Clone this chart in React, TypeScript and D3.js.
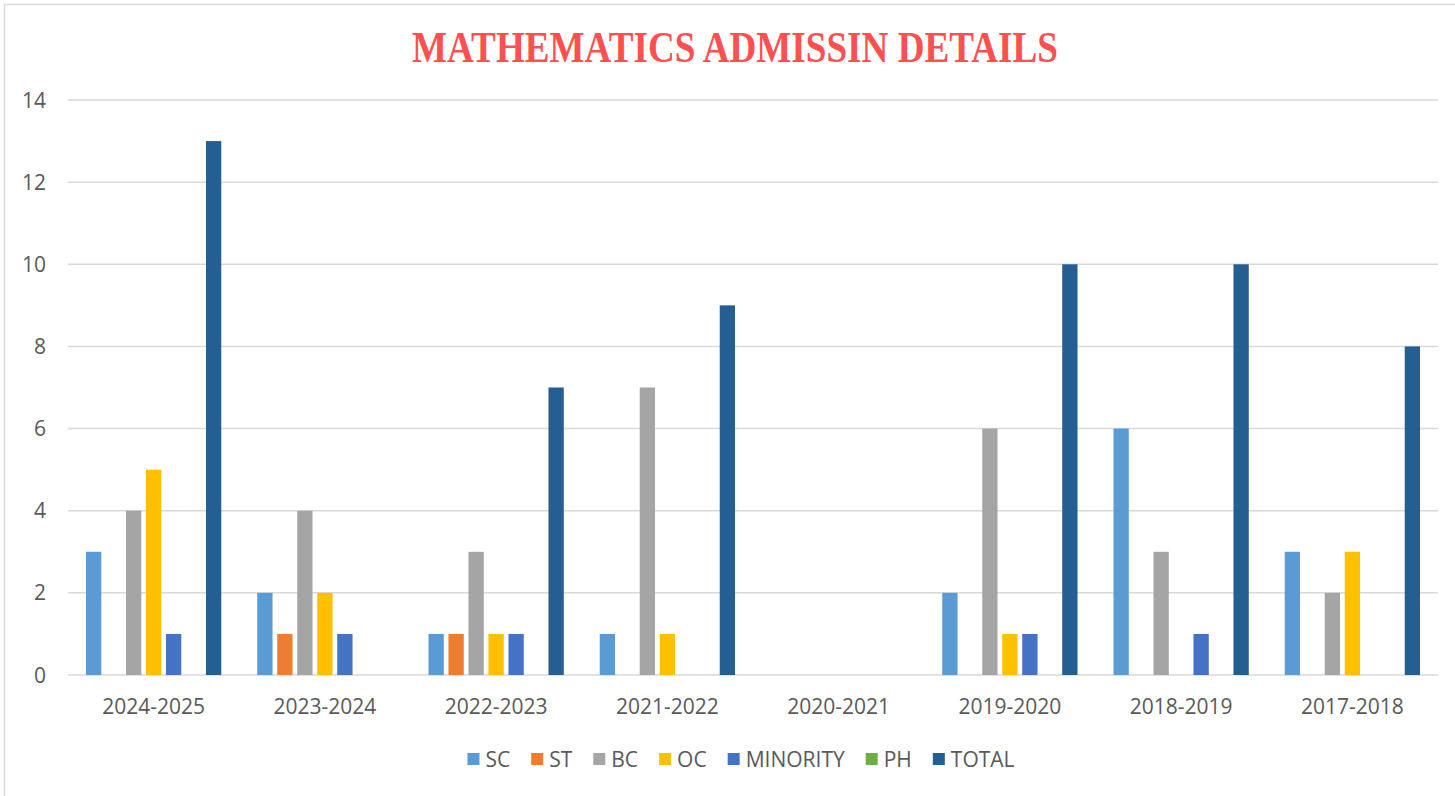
import React, { useEffect, useRef } from "react";
import * as d3 from "d3";

const categories = ["2024-2025", "2023-2024", "2022-2023", "2021-2022", "2020-2021", "2019-2020", "2018-2019", "2017-2018"];
const seriesNames = ["SC", "ST", "BC", "OC", "MINORITY", "PH", "TOTAL"];
const SC = [3, 2, 1, 1, 0, 2, 6, 3];
const ST = [0, 1, 1, 0, 0, 0, 0, 0];
const BC = [4, 4, 3, 7, 0, 6, 3, 2];
const OC = [5, 2, 1, 1, 0, 1, 0, 3];
const MINORITY = [1, 1, 1, 0, 0, 1, 1, 0];
const PH = [0, 0, 0, 0, 0, 0, 0, 0];
const TOTAL = [13, 0, 7, 9, 0, 10, 10, 8];
const seriesValues = [SC, ST, BC, OC, MINORITY, PH, TOTAL];
const colors = ["#5B9BD5", "#ED7D31", "#A5A5A5", "#FFC000", "#4472C4", "#70AD47", "#255E91"];
const yTicks = [0, 2, 4, 6, 8, 10, 12, 14];
const title = "MATHEMATICS ADMISSIN DETAILS";

const W = 1455;
const H = 796;

export default function App() {
  const ref = useRef<SVGSVGElement>(null);

  useEffect(() => {
    const svg = d3.select(ref.current);
    svg.selectAll("*").remove();
    const font = "'Open Sans', sans-serif";
    const textColor = "#595959";
    const fs = 21;

    // border
    svg.append("rect").attr("x", 4.5).attr("y", 4.5).attr("width", W + 20).attr("height", H + 20)
      .attr("fill", "white").attr("stroke", "#d9d9d9").attr("stroke-width", 1.5);

    // title
    svg.append("text").attr("x", 735).attr("y", 62).attr("text-anchor", "middle")
      .attr("font-family", "'Liberation Serif', 'Times New Roman', serif").attr("font-weight", "bold")
      .attr("font-size", 44).attr("fill", "#FF5050")
      .attr("textLength", 646).attr("lengthAdjust", "spacingAndGlyphs").text(title);

    const x0 = 68, x1 = 1438;
    const y = d3.scaleLinear().domain([0, 14]).range([675, 100]);
    const xCat = d3.scaleBand().domain(categories).range([x0, x1]).paddingInner(0).paddingOuter(0);
    const xSer = d3.scaleBand().domain(seriesNames).range([0, xCat.bandwidth()]).paddingInner(0.235).paddingOuter(0.899);

    // gridlines
    svg.append("g").selectAll("line").data(yTicks).join("line")
      .attr("x1", x0).attr("x2", x1).attr("y1", (d) => y(d)).attr("y2", (d) => y(d))
      .attr("stroke", "#d9d9d9").attr("stroke-width", 1.5);

    // y labels
    svg.append("g").selectAll("text").data(yTicks).join("text")
      .attr("x", 46).attr("y", (d) => y(d)).attr("dy", "0.36em").attr("text-anchor", "end")
      .attr("font-family", font).attr("font-size", fs).attr("fill", textColor).text((d) => String(d));

    // bars
    const g = svg.append("g");
    seriesNames.forEach((s, si) => {
      g.append("g").selectAll("rect").data(seriesValues[si].map((v, i) => ({ v, c: categories[i] })))
        .join("rect")
        .attr("x", (d) => (xCat(d.c) as number) + (xSer(s) as number))
        .attr("width", xSer.bandwidth())
        .attr("y", (d) => y(d.v))
        .attr("height", (d) => y(0) - y(d.v))
        .attr("fill", colors[si]);
    });

    // x labels
    svg.append("g").selectAll("text").data(categories).join("text")
      .attr("x", (d) => (xCat(d) as number) + xCat.bandwidth() / 2).attr("y", 714)
      .attr("text-anchor", "middle").attr("font-family", font).attr("font-size", fs)
      .attr("fill", textColor).text((d) => d);

    // legend
    const lg = svg.append("g");
    const sq = 12, gapT = 6, gapItem = 21;
    const items = seriesNames.map((s, i) => {
      const it = lg.append("g");
      it.append("rect").attr("width", sq).attr("height", sq).attr("y", -sq / 2).attr("fill", colors[i]);
      const t = it.append("text").attr("x", sq + gapT).attr("dy", "0.36em")
        .attr("font-family", font).attr("font-size", fs).attr("fill", textColor).text(s);
      const w = (t.node() as SVGTextElement).getComputedTextLength();
      return { it, w: sq + gapT + w };
    });
    const total = d3.sum(items, (d) => d.w) + gapItem * (items.length - 1);
    let cx = 741 - total / 2;
    items.forEach((d) => {
      d.it.attr("transform", `translate(${cx},759)`);
      cx += d.w + gapItem;
    });
  }, []);

  return (
    <svg ref={ref} width={W} height={H} style={{ position: "absolute", left: 0, top: 0, background: "white" }} />
  );
}
